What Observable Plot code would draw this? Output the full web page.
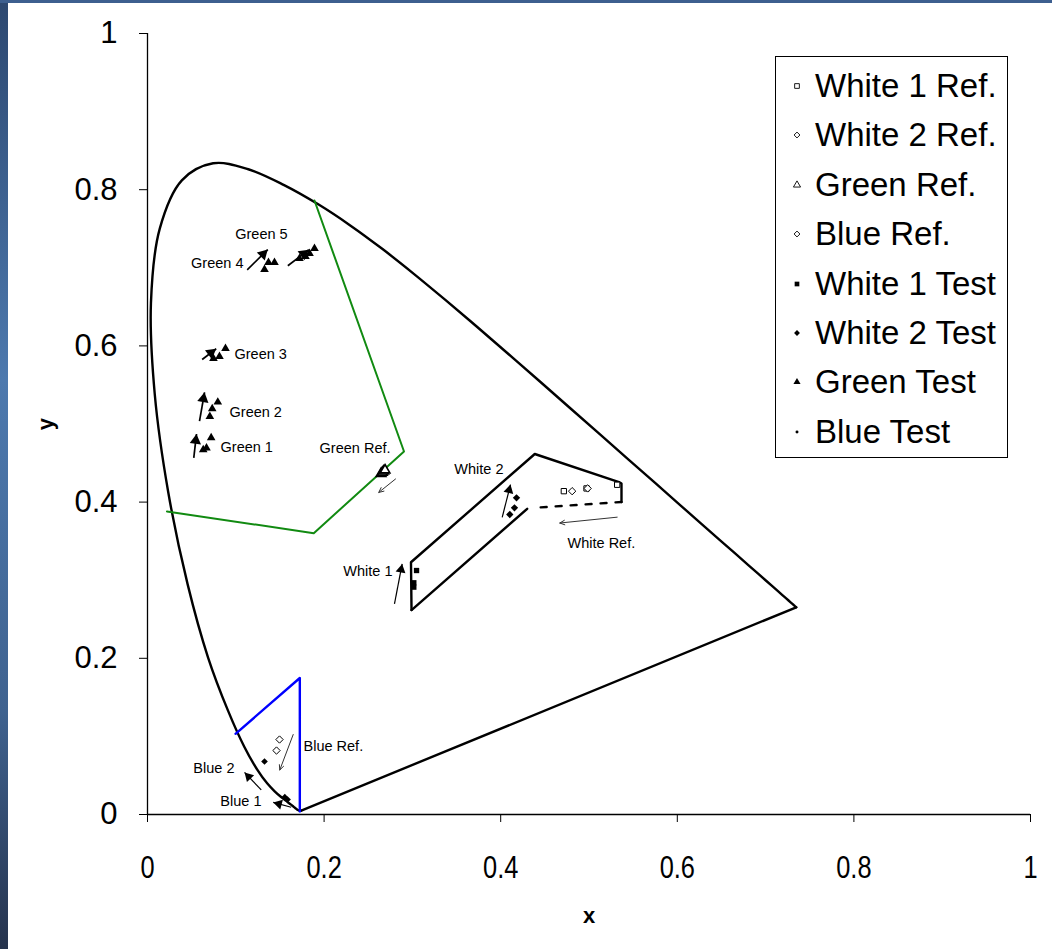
<!DOCTYPE html>
<html><head><meta charset="utf-8">
<script src="https://cdn.jsdelivr.net/npm/d3@7"></script>
<script src="https://cdn.jsdelivr.net/npm/@observablehq/plot@0.6"></script>
<style>
html,body{margin:0;padding:0;background:#fff;}
#wrap{position:relative;width:1052px;height:949px;overflow:hidden;background:#fff;font-family:Arial,"Liberation Sans",sans-serif;}
#stripL{position:absolute;left:0;top:0;width:8px;height:949px;background:linear-gradient(#2d4870,#4d79ae 40%,#3f628f 75%,#26334d);z-index:5;}
#stripT{position:absolute;left:0;top:0;width:1052px;height:3px;background:#3d5f8f;z-index:5;}
#legend{position:absolute;left:775px;top:56px;width:233px;height:402px;border:1px solid #000;background:#fff;box-sizing:border-box;z-index:4;}
.row{position:absolute;left:0;height:40px;width:230px;font-size:33px;line-height:40px;color:#000;}
.row svg{position:absolute;left:15px;top:14px;}
.row span{position:absolute;left:39px;top:0;white-space:nowrap;}
#chart{position:absolute;left:0;top:0;}
g[aria-label="x-axis tick label"], g[aria-label="y-axis tick label"]{font-size:31px;font-family:Arial,"Liberation Sans",sans-serif;}
g[aria-label="x-axis label"], g[aria-label="y-axis label"]{font-size:22px;font-weight:bold;font-family:Arial,"Liberation Sans",sans-serif;}
</style>
</head><body>
<div id="wrap">
  <div id="stripL"></div><div id="stripT"></div>
  <div id="chart"></div>
  <div id="legend"></div>
</div>
<script>
// CIE 1931 spectral locus (380..700 nm)
const locusX = [0.1741,0.1740,0.1738,0.1736,0.1733,0.1730,0.1726,0.1721,0.1714,0.1703,0.1689,0.1669,0.1644,0.1611,0.1566,0.1510,0.1440,0.1355,0.1241,0.1096,0.0913,0.0687,0.0454,0.0235,0.0082,0.0039,0.0139,0.0389,0.0743,0.1142,0.1547,0.1929,0.2296,0.2658,0.3016,0.3373,0.3731,0.4087,0.4441,0.4788,0.5125,0.5448,0.5752,0.6029,0.6270,0.6482,0.6658,0.6801,0.6915,0.7006,0.7079,0.7140,0.7190,0.7230,0.7260,0.7283,0.7300,0.7311,0.7320,0.7327,0.7334,0.7344,0.7347];
const locusY = [0.0050,0.0050,0.0049,0.0049,0.0048,0.0048,0.0048,0.0048,0.0051,0.0058,0.0069,0.0086,0.0109,0.0138,0.0177,0.0227,0.0297,0.0399,0.0578,0.0868,0.1327,0.2007,0.2950,0.4127,0.5384,0.6548,0.7502,0.8120,0.8338,0.8262,0.8059,0.7816,0.7543,0.7243,0.6923,0.6589,0.6245,0.5896,0.5547,0.5202,0.4866,0.4544,0.4242,0.3965,0.3725,0.3514,0.3340,0.3197,0.3083,0.2993,0.2920,0.2859,0.2809,0.2770,0.2740,0.2717,0.2700,0.2689,0.2680,0.2673,0.2666,0.2656,0.2653];

// Green gamut outline
const greenX = [0.1891,0.2905,0.1883,0.022];
const greenY = [0.7862,0.4648,0.3602,0.388];
// Blue gamut outline
const blueX = [0.0997,0.1725,0.1725];
const blueY = [0.1033,0.1748,0.004];
// White region outline: solid upper part, dashed part, solid lower part
const whiteSolidX = [0.299,0.2984,0.4386,0.534,0.5368,0.5368];
const whiteSolidY = [0.2618,0.323,0.4616,0.4257,0.4238,0.4001];
const whiteDashX = [0.5368,0.4375];
const whiteDashY = [0.4001,0.3927];
const whiteLowX = [0.43,0.299];
const whiteLowY = [0.3914,0.2618];

// Markers
const white1RefX = [0.4715,0.4972,0.5319];
const white1RefY = [0.414,0.4175,0.4222];
const white2RefX = [0.4809,0.4985];
const white2RefY = [0.414,0.4175];
const greenRefX = [0.2645,0.2660,0.2675,0.2690];
const greenRefY = [0.4365,0.4380,0.4395,0.4410];
const blueRefX = [0.1495,0.1461];
const blueRefY = [0.096,0.0819];
const white1TestX = [0.3047,0.3016,0.3016];
const white1TestY = [0.3124,0.2967,0.2911];
const white2TestX = [0.4179,0.4156,0.4103];
const white2TestY = [0.4055,0.3927,0.3841];
const greenTestX = [0.0631,0.0668,0.0721, 0.0706,0.0733,0.0796, 0.0747,0.0815,0.0883, 0.1325,0.137,0.1438, 0.1721,0.1789,0.1835,0.1891];
const greenTestY = [0.467,0.4693,0.4823, 0.5096,0.5195,0.528, 0.5839,0.5864,0.5967, 0.6978,0.7068,0.7068, 0.7119,0.7144,0.7183,0.7247];
const blueTestX = [0.1325,0.1555,0.1586];
const blueTestY = [0.0679,0.0222,0.0192];

// Arrows
const arrowX1 = [0.0524,0.0589,0.0619,0.1129,0.1589,0.2809,0.2797,0.4017,0.5319,0.165,0.1288,0.1627];
const arrowY1 = [0.4567,0.5036,0.5826,0.6974,0.7026,0.4296,0.2698,0.3804,0.3807,0.1024,0.0316,0.0093];
const arrowX2 = [0.0555,0.0646,0.0778,0.1362,0.1827,0.2619,0.2884,0.4111,0.4669,0.1498,0.1099,0.1424];
const arrowY2 = [0.4872,0.5405,0.5963,0.7234,0.7231,0.4124,0.3208,0.4225,0.3732,0.057,0.0539,0.0155];
const arrowKind = ["bold","bold","bold","bold","bold","thin","mid","mid","thin","thin","mid","mid"];

// Annotation labels
const labelText = ["Green 5","Green 4","Green 3","Green 2","Green 1","Green Ref.","White 2","White 1","White Ref.","Blue Ref.","Blue 2","Blue 1"];
const labelX = [0.129,0.1087,0.0985,0.0929,0.0827,0.2752,0.4032,0.2775,0.4757,0.1767,0.0985,0.1291];
const labelY = [0.743,0.7055,0.589,0.5147,0.470,0.4686,0.4417,0.3111,0.347,0.0871,0.0589,0.0166];
const labelAnchor = ["middle","end","start","start","start","end","end","end","start","start","end","end"];

// Axis ticks
const ticks = [0,0.2,0.4,0.6,0.8,1];

// Legend
const legendNames = ["White 1 Ref.","White 2 Ref.","Green Ref.","Blue Ref.","White 1 Test","White 2 Test","Green Test","Blue Test"];
const legendSymbols = ["square","diamond2","triangle","diamond2","square","diamond2","triangle","circle"];
const legendFilled = [false,false,false,false,true,true,true,true];

const W = 1052, H = 949, ML = 147, MR = 22, MT = 33, MB = 135;
const kx = W - ML - MR, ky = H - MT - MB; // pixels per unit

const pts = (xs, ys) => xs.map((x, i) => ({x, y: ys[i]}));
const locus = pts(locusX, locusY);
const purple = [locus[locus.length - 1], locus[0]];
const arrows = arrowX1.map((x1, i) => ({x1, y1: arrowY1[i], x2: arrowX2[i], y2: arrowY2[i], kind: arrowKind[i]}));
const labels = labelText.map((t, i) => ({t, x: labelX[i], y: labelY[i], a: labelAnchor[i]}));

// filled arrowheads for the solid arrows
const heads = arrows.filter(d => d.kind !== "thin").map(d => {
  const dx = (d.x2 - d.x1) * kx, dy = -(d.y2 - d.y1) * ky; // screen vector
  const len = Math.hypot(dx, dy);
  const r = d.kind === "bold" ? 4.2 : 3.7;
  const a = Math.sqrt(Math.PI * r * r * 4 / Math.sqrt(3));
  const back = a * Math.sqrt(3) / 3; // centroid-to-tip distance
  return {
    x: d.x2 - (dx / len) * back / kx,
    y: d.y2 + (dy / len) * back / ky,
    rot: Math.atan2(dx, -dy) * 180 / Math.PI,
    r, kind: d.kind
  };
});
const shafts = arrows.filter(d => d.kind !== "thin");

const labelMarks = ["start","middle","end"].map(a => Plot.text(labels.filter(d => d.a === a), {
  x: "x", y: "y", text: "t", textAnchor: a, fontSize: 14.5, fill: "#000",
  fontFamily: "Arial, 'Liberation Sans', sans-serif"
}));

const chart = Plot.plot({
  width: W, height: H,
  marginLeft: ML, marginRight: MR, marginTop: MT, marginBottom: MB,
  style: {background: "transparent", overflow: "visible"},
  x: {domain: [0, 1]},
  y: {domain: [0, 1]},
  r: {type: "identity"},
  marks: [
    Plot.axisX({ticks, tickSize: 8, tickPadding: 33, label: "x", labelAnchor: "center", labelOffset: 108, labelArrow: "none", tickFormat: d => String(d), stroke: "#000"}),
    Plot.axisY({ticks, tickSize: 8, tickPadding: 22, label: "y", labelAnchor: "center", labelOffset: 110, labelArrow: "none", tickFormat: d => String(d), stroke: "#000"}),
    Plot.ruleX([0], {stroke: "#000", strokeWidth: 1.3}),
    Plot.ruleY([0], {stroke: "#000", strokeWidth: 1.3}),
    Plot.line(locus, {x: "x", y: "y", stroke: "#000", strokeWidth: 2.4, curve: "catmull-rom"}),
    Plot.line(purple, {x: "x", y: "y", stroke: "#000", strokeWidth: 2.4}),
    Plot.line(pts(greenX, greenY), {x: "x", y: "y", stroke: "#118a11", strokeWidth: 2}),
    Plot.line(pts(blueX, blueY), {x: "x", y: "y", stroke: "#0000ff", strokeWidth: 2.4}),
    Plot.line(pts(whiteSolidX, whiteSolidY), {x: "x", y: "y", stroke: "#000", strokeWidth: 2.4}),
    Plot.line(pts(whiteDashX, whiteDashY), {x: "x", y: "y", stroke: "#000", strokeWidth: 2.4, strokeDasharray: "6,9"}),
    Plot.line(pts(whiteLowX, whiteLowY), {x: "x", y: "y", stroke: "#000", strokeWidth: 2.4}),
    Plot.arrow(arrows.filter(d => d.kind === "thin"), {x1: "x1", y1: "y1", x2: "x2", y2: "y2", stroke: "#333", strokeWidth: 1, headLength: 8, headAngle: 50}),
    Plot.link(shafts, {x1: "x1", y1: "y1", x2: "x2", y2: "y2", stroke: "#000", strokeWidth: d => d.kind === "bold" ? 1.7 : 1.2}),
    Plot.dot(heads, {x: "x", y: "y", r: "r", rotate: "rot", symbol: "triangle", fill: "#000", stroke: "none"}),
    Plot.dot(pts(white1RefX, white1RefY), {x: "x", y: "y", symbol: "square", r: 3, fill: "#fff", stroke: "#000", strokeWidth: 1}),
    Plot.dot(pts(white2RefX, white2RefY), {x: "x", y: "y", symbol: "diamond2", r: 3.3, fill: "#fff", stroke: "#000", strokeWidth: 1}),
    Plot.dot(pts(greenRefX, greenRefY), {x: "x", y: "y", symbol: "triangle", r: 3.6, fill: "#fff", stroke: "#000", strokeWidth: 1.6}),
    Plot.dot(pts(blueRefX, blueRefY), {x: "x", y: "y", symbol: "diamond2", r: 3.3, fill: "#fff", stroke: "#000", strokeWidth: 1}),
    Plot.dot(pts(white1TestX, white1TestY), {x: "x", y: "y", symbol: "square", r: 3, fill: "#000", stroke: "none"}),
    Plot.dot(pts(white2TestX, white2TestY), {x: "x", y: "y", symbol: "diamond2", r: 3.3, fill: "#000", stroke: "none"}),
    Plot.dot(pts(greenTestX, greenTestY), {x: "x", y: "y", symbol: "triangle", r: 3.2, fill: "#000", stroke: "none"}),
    Plot.dot(pts(blueTestX, blueTestY), {x: "x", y: "y", symbol: "diamond2", r: 3, fill: "#000", stroke: "none"}),
    ...labelMarks
  ]
});
document.getElementById("chart").appendChild(chart);

// narrower x tick labels, as in the reference
d3.select(chart).selectAll('g[aria-label="x-axis tick label"] text').each(function() {
  const t = this.getAttribute("transform");
  if (t && t.includes("translate")) {
    this.setAttribute("transform", t + " scale(0.82,1)");
  } else {
    const x = +this.getAttribute("x") || 0, y = +this.getAttribute("y") || 0;
    this.removeAttribute("x"); this.removeAttribute("y");
    this.setAttribute("transform", `${t || ""} translate(${x},${y}) scale(0.82,1)`);
  }
});

// Legend
const legend = d3.select("#legend");
const symMap = {square: d3.symbolSquare, diamond2: d3.symbolDiamond2, triangle: d3.symbolTriangle, circle: d3.symbolCircle};
legendNames.forEach((name, i) => {
  const row = legend.append("div").attr("class", "row").style("top", (9 + i * 49.4) + "px");
  const s = row.append("svg").attr("width", 12).attr("height", 12);
  const size = legendSymbols[i] === "circle" ? 7 : 22;
  s.append("path").attr("transform", "translate(6,6)")
    .attr("d", d3.symbol(symMap[legendSymbols[i]], size)())
    .attr("fill", legendFilled[i] ? "#000" : "#fff")
    .attr("stroke", legendFilled[i] ? "none" : "#000").attr("stroke-width", 0.9);
  row.append("span").text(name);
});
</script>
</body></html>
